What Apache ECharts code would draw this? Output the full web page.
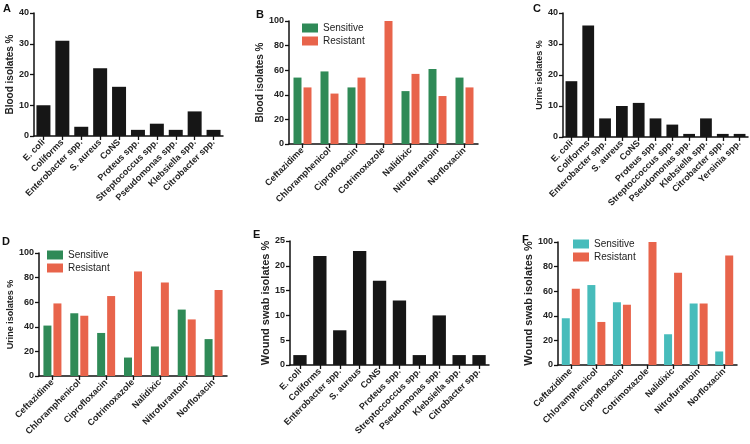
<!DOCTYPE html>
<html>
<head>
<meta charset="utf-8">
<script src="https://cdn.jsdelivr.net/npm/echarts@6/dist/echarts.min.js"></script>
<style>
html,body{margin:0;padding:0;background:#fff;}
#chart{width:750px;height:444px;}
</style>
</head>
<body>
<div id="chart"></div>
<script>
// ---- Data ----
const bloodOrganisms = ['E. coli','Coliforms','Enterobacter spp.','S. aureus','CoNS','Proteus spp.','Streptococcus spp.','Pseudomonas spp.','Klebsiella spp.','Citrobacter spp.'];
const bloodPercent = [10,31,3,22,16,2,4,2,8,2];

const urineOrganisms = ['E. coli','Coliforms','Enterobacter spp.','S. aureus','CoNS','Proteus spp.','Streptoccoccus spp.','Pseudomonas spp.','Klebsiella spp.','Citrobacter spp.','Yersinia spp.'];
const urinePercent = [18,36,6,10,11,6,4,1,6,1,1];

const woundOrganisms = ['E. coli','Coliforms','Enterobacter spp.','S. aureus','CoNS','Proteus spp.','Streptoccoccus spp.','Pseudomonas spp.','Klebsiella spp.','Citrobacter spp.'];
const woundPercent = [2,22,7,23,17,13,2,10,2,2];

const antibiotics = ['Ceftazidime','Chloramphenicol','Ciprofloxacin','Cotrimoxazole','Nalidixic','Nitrofurantoin','Norfloxacin'];
const bloodSensitive = [54,59,46,0,43,61,54];
const bloodResistant = [46,41,54,100,57,39,46];
const urineSensitive = [41,51,35,15,24,54,30];
const urineResistant = [59,49,65,85,76,46,70];
const woundSensitive = [38,65,51,0,25,50,11];
const woundResistant = [62,35,49,100,75,50,89];

const yTicksA = [0,40,10];
const yTicksB = [0,100,20];
const yTicksC = [0,40,10];
const yTicksD = [0,100,20];
const yTicksE = [0,25,5];
const yTicksF = [0,100,20];

// ---- Styling ----
const FONT = '"Liberation Sans", Arial, sans-serif';
const BLACK = '#161616';
const GREEN = '#2f8a57';
const RED = '#e8644b';
const TEAL = '#47bcbb';

const grids = [
  {left:34, top:13, width:189, height:123},   // A
  {left:289, top:21, width:189, height:123},  // B
  {left:563, top:13, width:185, height:124},  // C
  {left:39, top:253, width:188, height:123},  // D
  {left:290, top:241, width:199, height:124}, // E
  {left:558, top:242, width:179, height:123}  // F
];

function xAxisFor(idx, cats){
  return {
    type:'category', gridIndex:idx, data:cats,
    axisLine:{show:true, lineStyle:{color:'#111', width:1.5}},
    axisTick:{show:true, alignWithLabel:true, length:4, lineStyle:{color:'#111', width:1.3}},
    axisLabel:{interval:0, rotate:45, margin:5, fontSize:9, fontWeight:'bold', color:'#222', fontFamily:FONT}
  };
}
function yAxisFor(idx, ticks, name, nameSize, nameGap){
  return {
    type:'value', gridIndex:idx, min:ticks[0], max:ticks[1], interval:ticks[2],
    name:name, nameLocation:'middle', nameGap:nameGap,
    nameTextStyle:{fontSize:nameSize, fontWeight:'bold', color:'#222', fontFamily:FONT},
    axisLine:{show:true, lineStyle:{color:'#111', width:1.5}},
    axisTick:{show:true, length:4, lineStyle:{color:'#111', width:1.3}},
    splitLine:{show:false},
    axisLabel:{margin:5, fontSize:9, fontWeight:'bold', color:'#222', fontFamily:FONT}
  };
}
function blackBars(idx, values, gap){
  return {type:'bar', xAxisIndex:idx, yAxisIndex:idx, data:values, barCategoryGap:gap,
    itemStyle:{color:BLACK}, silent:true};
}
function pairBars(idx, sens, res, sensColor){
  return [
    {type:'bar', name:'Sensitive', xAxisIndex:idx, yAxisIndex:idx, data:sens, barWidth:8, barGap:'25%',
      itemStyle:{color:sensColor}, silent:true},
    {type:'bar', name:'Resistant', xAxisIndex:idx, yAxisIndex:idx, data:res, barWidth:8, barGap:'25%',
      itemStyle:{color:RED}, silent:true}
  ];
}
function legendFor(left, top, sensColor){
  return {
    left:left, top:top, orient:'vertical', icon:'rect', itemWidth:16, itemHeight:9, itemGap:3,
    selectedMode:false,
    textStyle:{fontSize:10, color:'#222', fontFamily:FONT},
    data:[{name:'Sensitive', itemStyle:{color:sensColor}}, {name:'Resistant', itemStyle:{color:RED}}]
  };
}

const letters = [['A',3,3],['B',256,9],['C',533,3],['D',2,236],['E',253,229],['F',522,234]];

const option = {
  animation:false,
  backgroundColor:'#fff',
  grid: grids.map(g => Object.assign({containLabel:false}, g)),
  xAxis:[
    xAxisFor(0, bloodOrganisms),
    xAxisFor(1, antibiotics),
    xAxisFor(2, urineOrganisms),
    xAxisFor(3, antibiotics),
    xAxisFor(4, woundOrganisms),
    xAxisFor(5, antibiotics)
  ],
  yAxis:[
    yAxisFor(0, yTicksA, 'Blood isolates %', 10, 16),
    yAxisFor(1, yTicksB, 'Blood isolates %', 10, 21),
    yAxisFor(2, yTicksC, 'Urine isolates %', 9, 17),
    yAxisFor(3, yTicksD, 'Urine isolates %', 9, 21),
    yAxisFor(4, yTicksE, 'Wound swab isolates %', 11, 15),
    yAxisFor(5, yTicksF, 'Wound swab isolates %', 11, 19)
  ],
  legend:[
    legendFor(297, 18, GREEN),
    legendFor(42, 245, GREEN),
    legendFor(568, 234, TEAL)
  ],
  series:[
    blackBars(0, bloodPercent, '26%'),
    ...pairBars(1, bloodSensitive, bloodResistant, GREEN),
    blackBars(2, urinePercent, '30%'),
    ...pairBars(3, urineSensitive, urineResistant, GREEN),
    blackBars(4, woundPercent, '33%'),
    ...pairBars(5, woundSensitive, woundResistant, TEAL)
  ],
  graphic: letters.map(l => ({
    type:'text', left:l[1], top:l[2],
    style:{text:l[0], fontSize:11, fontWeight:'bold', fill:'#111', fontFamily:FONT}
  }))
};

const chart = echarts.init(document.getElementById('chart'), null, {renderer:'canvas'});
chart.setOption(option);
</script>
</body>
</html>
